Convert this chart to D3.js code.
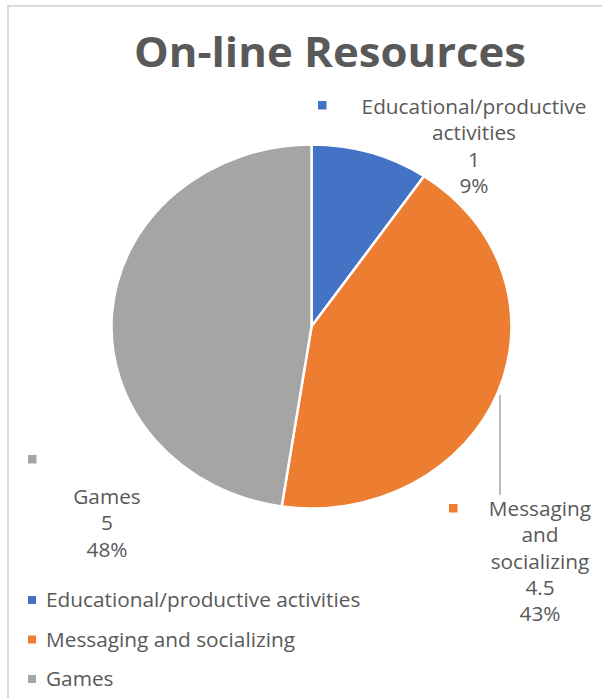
<!DOCTYPE html>
<html>
<head>
<meta charset="utf-8">
<script src="https://cdn.jsdelivr.net/npm/d3@7"></script>
<style>
  body { margin: 0; background: #fff; }
  text { font-family: "Open Sans", Lato, sans-serif; fill: #595959; }
</style>
</head>
<body>
<svg id="chart" width="602" height="698"></svg>
<script>
// chart data
var categories = ["Educational/productive activities", "Messaging and socializing", "Games"];
var values = [1, 4.5, 5];
var percents = ["9%", "43%", "48%"];
var valueText = ["1", "4.5", "5"];
var colors = ["#4472C4", "#ED7D31", "#A5A5A5"];

// how each data label is wrapped in the picture
var labelLines = [
    ["Educational/productive", "activities"],
    ["Messaging", "and", "socializing"],
    ["Games"]
];

var svg = d3.select("#chart");

// frame lines (only top and left are visible)
svg.append("line").attr("x1", 7).attr("y1", 6).attr("x2", 602).attr("y2", 6)
    .attr("stroke", "#d9d9d9").attr("stroke-width", 2);
svg.append("line").attr("x1", 8).attr("y1", 6).attr("x2", 8).attr("y2", 698)
    .attr("stroke", "#d9d9d9").attr("stroke-width", 2);

svg.append("text")
    .attr("x", 330).attr("y", 67)
    .attr("text-anchor", "middle")
    .attr("font-size", 41)
    .attr("font-weight", "bold")
    .attr("textLength", 392)
    .attr("lengthAdjust", "spacingAndGlyphs")
    .text("On-line Resources");

var cx = 311.5, cy = 326.5, r = 200, squash = 0.91;

var pie = d3.pie().sort(null).value(function (d) { return d; });
var arc = d3.arc().innerRadius(0).outerRadius(r);
var arcs = pie(values);

var g = svg.append("g")
    .attr("transform", "translate(" + cx + "," + cy + ") scale(1," + squash + ")");

g.selectAll(".slice")
    .data(arcs)
    .enter()
    .append("path")
    .attr("class", "slice")
    .attr("d", arc)
    .attr("fill", function (d, i) { return colors[i]; })
    .attr("stroke", "#fff")
    .attr("stroke-width", 2.5)
    .attr("vector-effect", "non-scaling-stroke");

// leader line for the orange label
svg.append("line")
    .attr("x1", 500).attr("y1", 395)
    .attr("x2", 500).attr("y2", 495)
    .attr("stroke", "#a6a6a6").attr("stroke-width", 1.5);

// label layout: block centre x, first baseline, marker position
var labelLayout = [
    { x: 474, y: 114, mx: 318, my: 101 },
    { x: 540, y: 516, mx: 449, my: 504 },
    { x: 107, y: 504, mx: 28, my: 455 }
];
var lh = 26.3;
var fs = 20.8;

labelLayout.forEach(function (L, i) {
    svg.append("rect")
        .attr("x", L.mx).attr("y", L.my)
        .attr("width", 8.5).attr("height", 8.5)
        .attr("fill", colors[i]);
    var lines = labelLines[i].concat([valueText[i], percents[i]]);
    svg.selectAll(null)
        .data(lines)
        .enter()
        .append("text")
        .attr("x", L.x)
        .attr("y", function (d, k) { return L.y + k * lh; })
        .attr("text-anchor", "middle")
        .attr("font-size", fs)
        .text(function (d) { return d; });
});

// legend
var legendY = d3.scalePoint().domain(categories).range([600, 679]);
var leg = svg.selectAll(".leg")
    .data(categories)
    .enter()
    .append("g")
    .attr("class", "leg")
    .attr("transform", function (d) { return "translate(28," + legendY(d) + ")"; });
leg.append("rect")
    .attr("x", 0).attr("y", -4)
    .attr("width", 8).attr("height", 8)
    .attr("fill", function (d, i) { return colors[i]; });
leg.append("text")
    .attr("x", 18).attr("y", 7)
    .attr("font-size", fs)
    .text(function (d) { return d; });
</script>
</body>
</html>
